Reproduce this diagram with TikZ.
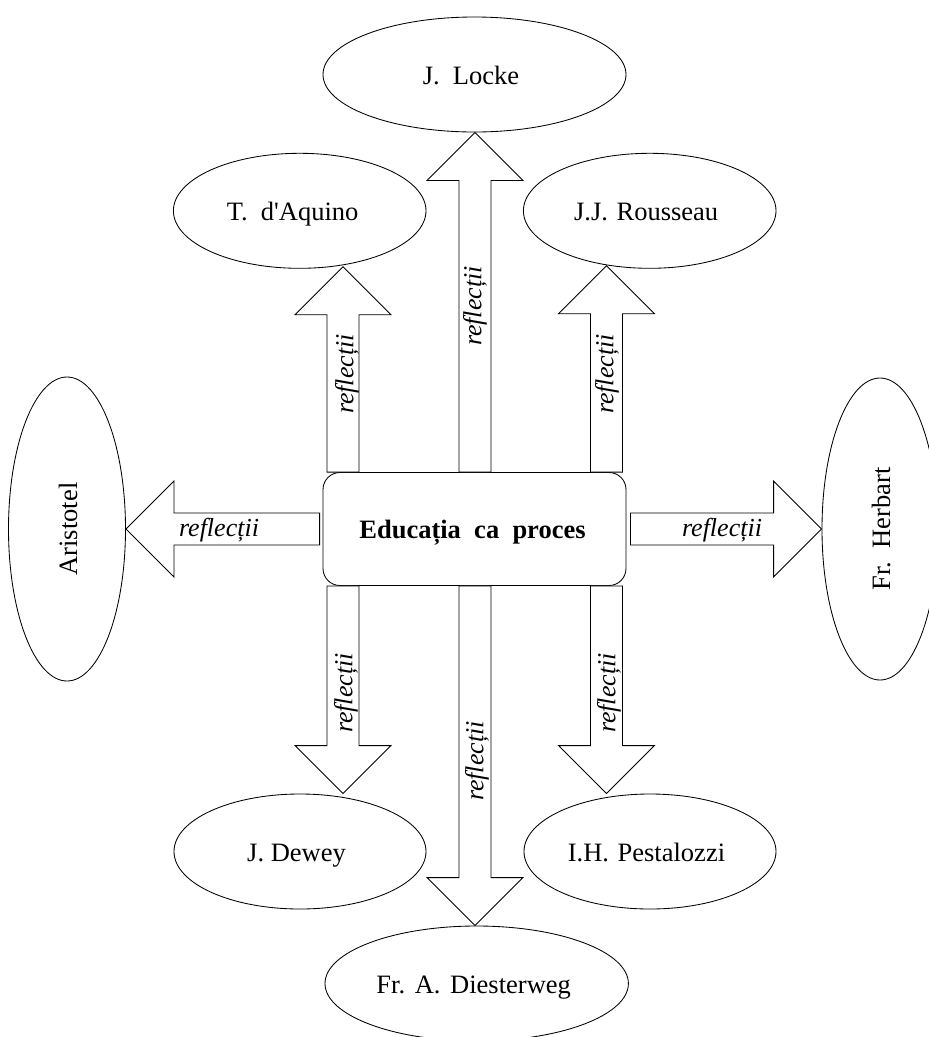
\documentclass[tikz,border=0pt]{standalone}
\usepackage{fontspec}
\setmainfont{Liberation Serif}[Ligatures=TeXOff]
\usetikzlibrary{shapes.geometric,calc}
\newcommand\namefont{\fontsize{26.5}{30}\selectfont}
\newcommand\lblfont{\fontsize{26}{30}\selectfont\itshape}
% block arrow from tail #1 to tip #2, helper name #3
\newcommand\blockarr[3]{%
  \coordinate (#3h) at ($(#2)!48pt!(#1)$);
  \draw[blockarrow] ($(#1)!16pt!90:(#2)$) -- ($(#3h)!16pt!90:(#2)$)
    -- ($(#3h)!48pt!90:(#2)$) -- (#2) -- ($(#3h)!48pt!-90:(#2)$)
    -- ($(#3h)!16pt!-90:(#2)$) -- ($(#1)!16pt!-90:(#2)$) -- cycle;}
\tikzset{
  thinline/.style={line width=0.85pt},
  person/.style={draw, thinline, ellipse, inner sep=0pt, font=\namefont, text height=20pt, text depth=0pt},
  central/.style={draw, thinline, rectangle, rounded corners=17pt, minimum width=303pt, minimum height=113pt, inner sep=0pt, font=\namefont\bfseries, text depth=0pt},
  blockarrow/.style={draw, thinline, fill=white, line join=miter},
  lbl/.style={font=\lblfont, inner sep=0pt},
}
\begin{document}
\begin{tikzpicture}[x=1pt, y=-1pt]
\useasboundingbox (0,0) rectangle (929,1037);
\fill[white] (0,0) rectangle (929,1037);

% central box
\node[central] (box) at (474.5,529) {Educația~~ca~~proces\kern4pt};

% people
\node[person, minimum width=303pt, minimum height=115pt] (locke) at (474.5,74.5) {J.~~Locke\kern7pt};
\node[person, minimum width=252.6pt, minimum height=115pt] (aquino) at (299.7,210.8) {T.~~d'Aquino\kern14pt};
\node[person, minimum width=252.6pt, minimum height=115pt] (rousseau) at (649.7,210.8) {J.J.~\kern2pt Rousseau\kern7pt};
\node[person, rotate=90, minimum width=304pt, minimum height=117pt] (aristotel) at (67,529) {Aristotel};
\node[person, rotate=90, minimum width=302pt, minimum height=116pt] (herbart) at (880,529) {Fr.~~Herbart};
\node[person, minimum width=252pt, minimum height=115pt] (dewey) at (300,851.5) {J.~Dewey\kern7pt};
\node[person, minimum width=252pt, minimum height=115pt] (pestalozzi) at (650,851.5) {I.H.~\kern2pt Pestalozzi\kern7pt};
\node[person, minimum width=303.4pt, minimum height=115pt] (diesterweg) at (476.7,983.5) {Fr.~\kern3pt A.~\kern3pt Diesterweg\kern6pt};

% shaft columns
\coordinate (colL) at (343,0);
\coordinate (colM) at (475,0);
\coordinate (colR) at (606.5,0);

% tails and tips
\coordinate (tLo) at (colM |- box.north);
\coordinate (pLo) at (colM |- locke.south);
\coordinate (tAq) at (colL |- box.north);
\coordinate (pAq) at ($(colL |- aquino.south)+(0,-2)$);
\coordinate (tRo) at (colR |- box.north);
\coordinate (pRo) at ($(colR |- rousseau.south)+(0,-3)$);
\coordinate (tAr) at ($(box.west)+(-3,0)$);
\coordinate (pAr) at (aristotel.south);
\coordinate (tHe) at ($(box.east)+(4,0)$);
\coordinate (pHe) at (herbart.north);
\coordinate (tDe) at (colL |- box.south);
\coordinate (pDe) at (colL |- dewey.north);
\coordinate (tDi) at (colM |- box.south);
\coordinate (pDi) at (colM |- diesterweg.north);
\coordinate (tPe) at (colR |- box.south);
\coordinate (pPe) at (colR |- pestalozzi.north);

% block arrows
\blockarr{tLo}{pLo}{aLo}
\blockarr{tAq}{pAq}{aAq}
\blockarr{tRo}{pRo}{aRo}
\blockarr{tAr}{pAr}{aAr}
\blockarr{tHe}{pHe}{aHe}
\blockarr{tDe}{pDe}{aDe}
\blockarr{tDi}{pDi}{aDi}
\blockarr{tPe}{pPe}{aPe}

% labels
\node[lbl, rotate=90] (lLo) at (475,306) {reflecții};
\node[lbl, rotate=90] (lAq) at (347,374) {reflecții};
\node[lbl, rotate=90] (lRo) at (607,374) {reflecții};
\node[lbl] (lAr) at (219,530.5) {reflecții};
\node[lbl] (lHe) at (722,530.5) {reflecții};
\node[lbl, rotate=90] (lDe) at (346,693) {reflecții};
\node[lbl, rotate=90] (lDi) at (477,761) {reflecții};
\node[lbl, rotate=90] (lPe) at (609,693) {reflecții};
\end{tikzpicture}
\end{document}
